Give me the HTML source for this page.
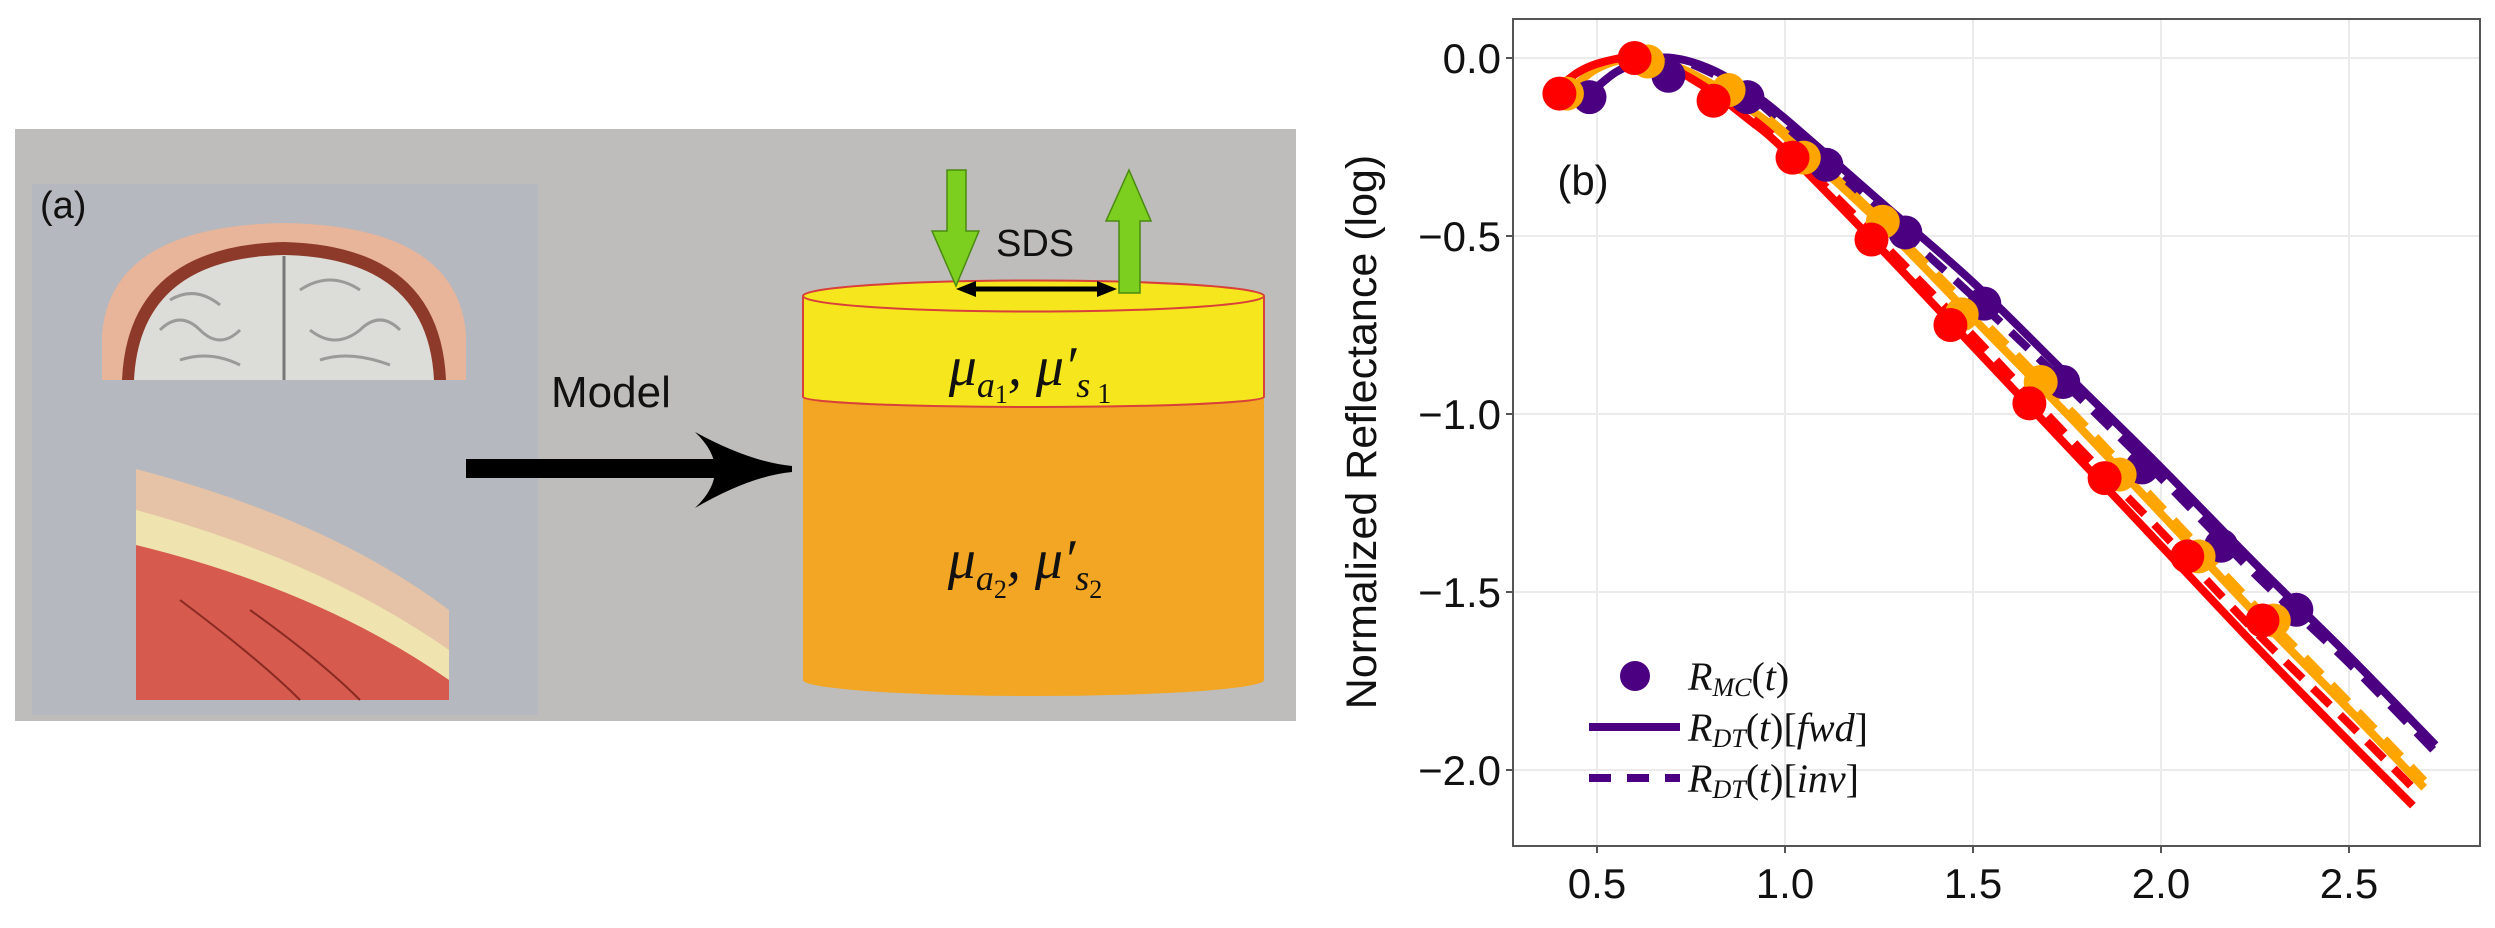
<!DOCTYPE html>
<html><head><meta charset="utf-8"><style>
html,body{margin:0;padding:0;background:#fff;}
svg{display:block;}
text{font-family:"Liberation Sans",sans-serif;}
.math{font-family:"Liberation Serif",serif;font-style:italic;}
</style></head><body>
<svg id="fig" width="2495" height="928" viewBox="0 0 2495 928" xmlns="http://www.w3.org/2000/svg">
<g>
  <rect x="15" y="129" width="1281" height="592" fill="#bebdbc"/>
  <rect x="32" y="184" width="506" height="531" fill="#b5b8be"/>
  <text x="40" y="218" font-size="38" fill="#111">(a)</text>
  <g>
    <path d="M102,380 L102,335 Q110,226 284,223 Q458,226 466,335 L466,380 Z" fill="#e8b49a"/>
    <path d="M122,380 Q128,246 284,242 Q440,246 446,380 Z" fill="#8e3a2a"/>
    <path d="M134,380 Q140,258 284,255 Q428,258 434,380 Z" fill="#dcdcd8"/>
    <path d="M284,256 L284,380" stroke="#777" stroke-width="3"/>
    <path d="M160,330 q20,-20 40,0 q20,20 40,0 M170,300 q25,-15 50,5 M300,290 q30,-20 60,0 M310,330 q25,20 50,0 q20,-20 40,0 M180,360 q30,-10 60,5 M320,360 q30,-10 70,5" stroke="#9a9a98" stroke-width="3" fill="none"/>
  </g>
  <g>
    <path d="M136,469 Q330,520 449,610 L449,700 L136,700 Z" fill="#e6c3a6"/>
    <path d="M136,510 Q320,560 449,650 L449,700 L136,700 Z" fill="#efe4b0"/>
    <path d="M136,545 Q320,590 449,680 L449,700 L136,700 Z" fill="#d65a4e"/>
    <path d="M180,600 Q260,660 300,700 M250,610 Q320,660 360,700" stroke="#8a2a22" stroke-width="2" fill="none"/>
  </g>
  <text x="551" y="407" font-size="44" fill="#111">Model</text>
  <g>
    <rect x="466" y="459" width="280" height="19" fill="#000"/>
    <path d="M695,432 Q750,462 792,466 L792,472 Q750,476 695,508 Q735,470 695,432 Z" fill="#000"/>
  </g>
  <g>
    <path d="M803,397 L803,680 A230.5,16 0 0 0 1264,680 L1264,397 Z" fill="#f3a623"/>
    <path d="M803,297 L803,397 A230.5,10 0 0 0 1264,397 L1264,297 Z" fill="#f6e61d" stroke="#d8403a" stroke-width="2"/>
    <ellipse cx="1033.5" cy="296" rx="230.5" ry="15.5" fill="#f6e61d" stroke="#d8403a" stroke-width="2"/>
    <text x="1030" y="385" font-size="56" text-anchor="middle" class="math" fill="#111">μ<tspan font-size="36" dy="12">a</tspan><tspan font-size="26" dy="6" font-style="normal">1</tspan><tspan dy="-18">, μ′</tspan><tspan font-size="36" dy="12">s</tspan><tspan font-size="28" dy="6" font-style="normal"> 1</tspan></text>
    <text x="1025" y="578" font-size="56" text-anchor="middle" class="math" fill="#111">μ<tspan font-size="36" dy="12">a</tspan><tspan font-size="26" dy="8" font-style="normal">2</tspan><tspan dy="-20">, μ′</tspan><tspan font-size="36" dy="12">s</tspan><tspan font-size="26" dy="8" font-style="normal">2</tspan></text>
  </g>
  <g>
    <path d="M947,170 L966,170 L966,231 L979,231 L956,286 L932,231 L947,231 Z" fill="#7ccf1f" stroke="#4a8a10" stroke-width="1.5"/>
  </g>
  <g>
    <path d="M1119,293 L1140,293 L1140,221 L1151,221 L1129,170 L1106,221 L1119,221 Z" fill="#7ccf1f" stroke="#4a8a10" stroke-width="1.5"/>
  </g>
  <text x="996" y="256" font-size="38" fill="#111">SDS</text>
  <g>
    <line x1="968" y1="289" x2="1105" y2="289" stroke="#000" stroke-width="5"/>
    <path d="M956,289 L976,281 L976,297 Z M1117,289 L1097,281 L1097,297 Z" fill="#000"/>
  </g>
</g>
<g id="chart"></g>
</svg>
<script>
const xTicks = [0.5, 1.0, 1.5, 2.0, 2.5];
const xTickLabels = ["0.5", "1.0", "1.5", "2.0", "2.5"];
const yTicks = [0.0, -0.5, -1.0, -1.5, -2.0];
const yTickLabels = ["0.0", "\u22120.5", "\u22121.0", "\u22121.5", "\u22122.0"];

const purplePtsT = [0.48, 0.69, 0.90, 1.11, 1.32, 1.53, 1.74, 1.95, 2.16, 2.36];
const purplePtsV = [-0.11, -0.05, -0.11, -0.30, -0.49, -0.69, -0.91, -1.15, -1.37, -1.55];
const orangePtsT = [0.42, 0.635, 0.85, 1.05, 1.26, 1.47, 1.68, 1.89, 2.10, 2.30];
const orangePtsV = [-0.10, -0.01, -0.09, -0.28, -0.46, -0.72, -0.91, -1.17, -1.40, -1.58];
const redPtsT = [0.40, 0.60, 0.81, 1.02, 1.23, 1.44, 1.65, 1.85, 2.07, 2.27];
const redPtsV = [-0.10, 0.0, -0.12, -0.28, -0.51, -0.75, -0.97, -1.18, -1.40, -1.58];

const purpleLineT = [0.48, 0.55, 0.62, 0.70, 0.80, 0.90, 1.00, 1.25, 1.50, 1.75, 2.00, 2.25, 2.50, 2.73];
const purpleFwd = [-0.10, -0.04, -0.01, 0.0, -0.03, -0.09, -0.17, -0.40, -0.63, -0.89, -1.15, -1.42, -1.68, -1.93];
const purpleInv = [-0.10, -0.04, -0.01, 0.0, -0.04, -0.10, -0.19, -0.43, -0.67, -0.92, -1.18, -1.45, -1.70, -1.95];
const orangeLineT = [0.42, 0.50, 0.60, 0.70, 0.80, 0.90, 1.00, 1.25, 1.50, 1.75, 2.00, 2.25, 2.50, 2.70];
const orangeFwd = [-0.10, -0.03, 0.0, -0.02, -0.07, -0.14, -0.22, -0.46, -0.73, -1.00, -1.28, -1.56, -1.83, -2.05];
const orangeInv = [-0.10, -0.03, 0.0, -0.02, -0.07, -0.13, -0.21, -0.45, -0.71, -0.98, -1.26, -1.54, -1.81, -2.03];
const redLineT = [0.38, 0.45, 0.52, 0.60, 0.70, 0.80, 0.90, 1.00, 1.25, 1.50, 1.75, 2.00, 2.25, 2.50, 2.67];
const redFwd = [-0.10, -0.04, -0.01, 0.0, -0.03, -0.09, -0.17, -0.26, -0.53, -0.81, -1.09, -1.37, -1.65, -1.92, -2.10];
const redInv = [-0.10, -0.04, -0.01, 0.0, -0.03, -0.09, -0.16, -0.25, -0.51, -0.78, -1.06, -1.33, -1.61, -1.87, -2.05];

const NS = "http://www.w3.org/2000/svg";
const chart = document.getElementById("chart");
const FL = 1513, FR = 2480, FT = 19, FB = 846;
function xs(t){ return 1597 + (t - 0.5) * 376; }
function ys(v){ return 58 - v * 356; }
function mk(tag, attrs, parent){
  const el = document.createElementNS(NS, tag);
  for (const k in attrs) el.setAttribute(k, attrs[k]);
  (parent || chart).appendChild(el);
  return el;
}
function smoothPath(T, V){
  const p = T.map((t, i) => [xs(t), ys(V[i])]);
  let d = "M" + p[0][0].toFixed(1) + "," + p[0][1].toFixed(1);
  for (let i = 0; i < p.length - 1; i++){
    const p0 = p[Math.max(0, i - 1)], p1 = p[i], p2 = p[i + 1], p3 = p[Math.min(p.length - 1, i + 2)];
    const c1 = [p1[0] + (p2[0] - p0[0]) / 6, p1[1] + (p2[1] - p0[1]) / 6];
    const c2 = [p2[0] - (p3[0] - p1[0]) / 6, p2[1] - (p3[1] - p1[1]) / 6];
    d += " C" + c1[0].toFixed(1) + "," + c1[1].toFixed(1) + " " + c2[0].toFixed(1) + "," + c2[1].toFixed(1) + " " + p2[0].toFixed(1) + "," + p2[1].toFixed(1);
  }
  return d;
}

xTicks.forEach((t) => {
  const g = mk("line", {x1: xs(t), x2: xs(t), y1: FT, y2: FB, stroke: "#ebebeb", "stroke-width": 2});
  
  
});
yTicks.forEach((v) => {
  const g = mk("line", {x1: FL, x2: FR, y1: ys(v), y2: ys(v), stroke: "#ebebeb", "stroke-width": 2});
  
  
});

const series = [
  {name: "purple", color: "#4b0082", lt: purpleLineT, fwd: purpleFwd, inv: purpleInv, pt: purplePtsT, pv: purplePtsV},
  {name: "orange", color: "#ffa500", lt: orangeLineT, fwd: orangeFwd, inv: orangeInv, pt: orangePtsT, pv: orangePtsV},
  {name: "red", color: "#ff0000", lt: redLineT, fwd: redFwd, inv: redInv, pt: redPtsT, pv: redPtsV}
];
series.forEach((s) => {
  const l1 = mk("path", {d: smoothPath(s.lt, s.fwd), fill: "none", stroke: s.color, "stroke-width": 8});
  
  
  const l2 = mk("path", {d: smoothPath(s.lt, s.inv), fill: "none", stroke: s.color, "stroke-width": 8, "stroke-dasharray": "24 14"});
  
  
});
series.forEach((s) => {
  s.pt.forEach((t, i) => {
    const c = mk("circle", {cx: xs(t), cy: ys(s.pv[i]), r: 17, fill: s.color});
    
    
  });
});

const fr = mk("rect", {x: FL, y: FT, width: FR - FL, height: FB - FT, fill: "none", stroke: "#555", "stroke-width": 2});



xTicks.forEach((t, i) => {
  const tk = mk("line", {x1: xs(t), x2: xs(t), y1: FB, y2: FB + 7, stroke: "#555", "stroke-width": 2});
  
  
  const lb = mk("text", {x: xs(t), y: 898, "text-anchor": "middle", "font-size": 42, fill: "#111"});
  lb.textContent = xTickLabels[i];
  
  
});
yTicks.forEach((v, i) => {
  const tk = mk("line", {x1: FL - 7, x2: FL, y1: ys(v), y2: ys(v), stroke: "#555", "stroke-width": 2});
  
  
  const lb = mk("text", {x: 1501, y: ys(v) + 15, "text-anchor": "end", "font-size": 42, fill: "#111"});
  lb.textContent = yTickLabels[i];
  
  
});

const yt = mk("text", {x: 0, y: 0, transform: "translate(1376,432) rotate(-90)", "text-anchor": "middle", "font-size": 43, fill: "#111"});
yt.textContent = "Normalized Reflectance (log)";



const pb = mk("text", {x: 1583, y: 195, "text-anchor": "middle", "font-size": 42, fill: "#111"});
pb.textContent = "(b)";



const lg = mk("g", {});


const ld = mk("circle", {cx: 1635, cy: 676, r: 15, fill: "#4b0082"}, lg);


const lt1 = mk("text", {x: 1688, y: 690, "font-size": 40, fill: "#111", "class": "math"}, lg);
lt1.innerHTML = 'R<tspan font-size="26" dy="6">MC</tspan><tspan dy="-6" font-style="normal">(</tspan>t<tspan font-style="normal">)</tspan>';


const ll2 = mk("line", {x1: 1589, x2: 1680, y1: 727, y2: 727, stroke: "#4b0082", "stroke-width": 8}, lg);


const lt2 = mk("text", {x: 1688, y: 741, "font-size": 40, fill: "#111", "class": "math"}, lg);
lt2.innerHTML = 'R<tspan font-size="26" dy="6">DT</tspan><tspan dy="-6" font-style="normal">(</tspan>t<tspan font-style="normal">)[</tspan>fwd<tspan font-style="normal">]</tspan>';


const ll3 = mk("line", {x1: 1589, x2: 1680, y1: 778, y2: 778, stroke: "#4b0082", "stroke-width": 8, "stroke-dasharray": "22 16"}, lg);


const lt3 = mk("text", {x: 1688, y: 792, "font-size": 40, fill: "#111", "class": "math"}, lg);
lt3.innerHTML = 'R<tspan font-size="26" dy="6">DT</tspan><tspan dy="-6" font-style="normal">(</tspan>t<tspan font-style="normal">)[</tspan>inv<tspan font-style="normal">]</tspan>';


</script>
</body></html>
